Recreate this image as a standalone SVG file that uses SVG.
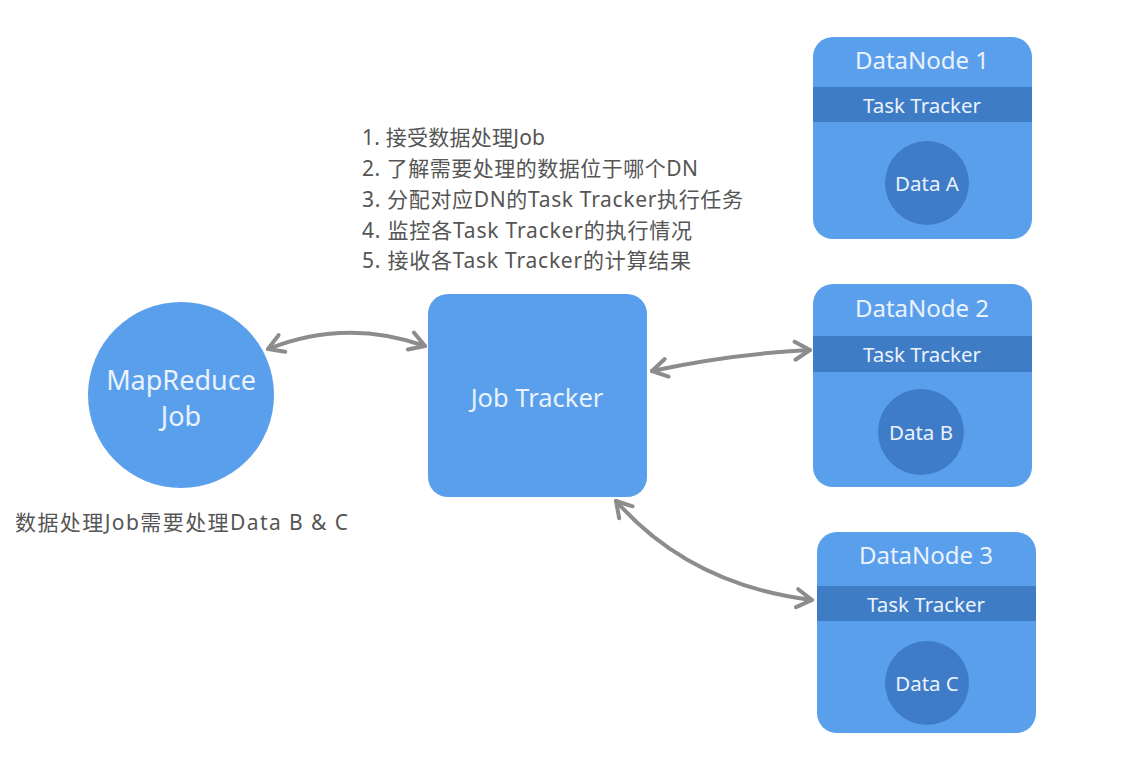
<svg xmlns="http://www.w3.org/2000/svg" width="1140" height="772" viewBox="0 0 1140 772">
<defs>
<style>
.bg{fill:#ffffff}
.node{fill:#5a9fec}
.band{fill:#3f7cc6}
.data{fill:#3f7cc8}
.wt{fill:#eaf2fc;font-family:"Noto Sans","Liberation Sans","Noto Sans CJK SC",sans-serif;text-anchor:middle;dominant-baseline:central}
.t27{font-size:27px}
.t26{font-size:25.5px}
.t24{font-size:24px}
.t21{font-size:20.5px}
.t20{font-size:20.5px}
.gt{fill:#555555;font-family:"Noto Sans","Noto Sans CJK SC",sans-serif;font-size:21px}
.arr{fill:none;stroke:#8c8c8c;stroke-width:4;stroke-linecap:round}
</style>
<marker id="head" viewBox="-20 -12 24 24" refX="0" refY="0" markerWidth="24" markerHeight="24" markerUnits="userSpaceOnUse" orient="auto-start-reverse" overflow="visible">
<path d="M -15 -9 L 0 0 L -15 9" fill="none" stroke="#8c8c8c" stroke-width="4" stroke-linecap="round" stroke-linejoin="round"/>
</marker>
</defs>
<rect class="bg" x="0" y="0" width="1140" height="772"/>

<g id="job-tracker-notes">
<text class="gt" x="362" y="145" textLength="183">1. 接受数据处理Job</text>
<text class="gt" x="362" y="176" textLength="336">2. 了解需要处理的数据位于哪个DN</text>
<text class="gt" x="362" y="207" textLength="381">3. 分配对应DN的Task Tracker执行任务</text>
<text class="gt" x="362" y="238" textLength="330">4. 监控各Task Tracker的执行情况</text>
<text class="gt" x="362" y="268" textLength="329">5. 接收各Task Tracker的计算结果</text>
</g>

<g id="mapreduce-job">
<circle class="node" cx="181" cy="395" r="93"/>
<text class="wt t27" x="181" y="379">MapReduce</text>
<text class="wt t27" x="181" y="415">Job</text>
</g>

<g id="mapreduce-note">
<text class="gt" x="15" y="530" textLength="333">数据处理Job需要处理Data B &amp; C</text>
</g>

<g id="job-tracker">
<rect class="node" x="428" y="294" width="219" height="203" rx="20"/>
<text class="wt t26" x="537" y="397">Job Tracker</text>
</g>

<g id="datanode-1">
<rect class="node" x="813" y="37" width="219" height="202" rx="20"/>
<rect class="band" x="813" y="87" width="219" height="35"/>
<circle class="data" cx="927" cy="183" r="42"/>
<text class="wt t24" x="922" y="59">DataNode 1</text>
<text class="wt t21" x="922" y="104.5">Task Tracker</text>
<text class="wt t20" x="927" y="183">Data A</text>
</g>

<g id="datanode-2">
<rect class="node" x="813" y="284" width="219" height="203" rx="20"/>
<rect class="band" x="813" y="336" width="219" height="36"/>
<circle class="data" cx="921" cy="432" r="43"/>
<text class="wt t24" x="922" y="307">DataNode 2</text>
<text class="wt t21" x="922" y="354">Task Tracker</text>
<text class="wt t20" x="921" y="432">Data B</text>
</g>

<g id="datanode-3">
<rect class="node" x="817" y="532" width="219" height="201" rx="20"/>
<rect class="band" x="817" y="586" width="219" height="35"/>
<circle class="data" cx="927" cy="683" r="42"/>
<text class="wt t24" x="926" y="554">DataNode 3</text>
<text class="wt t21" x="926" y="603.5">Task Tracker</text>
<text class="wt t20" x="927" y="683">Data C</text>
</g>

<g id="connectors">
<path class="arr" d="M 268 349 Q 346 318 425 346" marker-start="url(#head)" marker-end="url(#head)"/>
<path class="arr" d="M 652 371 Q 730 354 810 350" marker-start="url(#head)" marker-end="url(#head)"/>
<path class="arr" d="M 616 501 Q 690 585 812 600" marker-start="url(#head)" marker-end="url(#head)"/>
</g>
</svg>
